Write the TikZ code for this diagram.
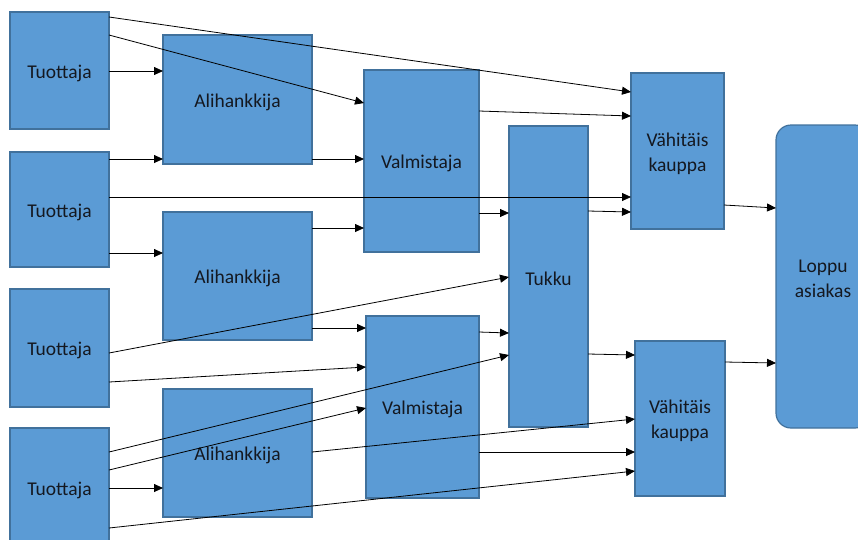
\documentclass[tikz,border=0pt]{standalone}
\usepackage{fontspec}
\setmainfont{Carlito}
\usetikzlibrary{arrows.meta}
\definecolor{boxfill}{HTML}{5B9BD5}
\definecolor{boxline}{HTML}{41719C}
\definecolor{ink}{HTML}{141820}
\tikzset{
  box/.style={draw=boxline, fill=boxfill, line width=1.2pt, inner sep=0pt,
    outer sep=0pt},
  lbl/.style={inner sep=0pt, align=center, text=ink,
    font=\fontsize{19.5}{25}\selectfont},
  arr/.style={draw=black, line width=0.8pt, -{Triangle[length=9pt,width=8pt]}},
}
% \placebox[extra]{name}{x1}{y1}{x2}{y2}{text}: box given by its corners
\newcommand\placebox[7][]{%
  \node[box,#1,minimum width={(#5-#3)*1pt},minimum height={(#6-#4)*1pt}]
    (#2) at ({(#3+#5)/2},{(#4+#6)/2}) {};
  \node[lbl] (#2-text) at ([yshift=-2.5pt]#2.center) {#7};}
\begin{document}
\begin{tikzpicture}[x=1pt,y=-1pt]
\useasboundingbox (0,0) rectangle (858,539);
% producers
\placebox{t1}{10}{12}{109}{129}{Tuottaja}
\placebox{t2}{10}{152}{109}{267}{Tuottaja}
\placebox{t3}{10}{289}{109}{407}{Tuottaja}
\placebox{t4}{10}{428}{109}{548}{Tuottaja}
% subcontractors
\placebox{a1}{163}{35}{312}{164}{Alihankkija}
\placebox{a2}{163}{212}{312}{340}{Alihankkija}
\placebox{a3}{163}{389}{312}{517}{Alihankkija}
% manufacturers
\placebox{m1}{364}{70}{479}{252}{Valmistaja}
\placebox{m2}{366}{316}{479}{498}{Valmistaja}
% wholesale
\placebox{w}{509}{126}{588}{427}{Tukku}
% retail
\placebox{r1}{631}{73}{724}{229}{Vähitäis\\kauppa}
\placebox{r2}{635}{341}{725}{496}{Vähitäis\\kauppa}
% end customer
\placebox[rounded corners=15pt]{c}{776}{125}{870}{428}{Loppu\\asiakas}

% flows
\draw[arr] (t1.east |- 0,17)  -- (r1.west |- 0,92);
\draw[arr] (t1.east |- 0,35)  -- (m1.west |- 0,103);
\draw[arr] (t1.east |- 0,71)  -- (a1.west |- 0,71);
\draw[arr] (t2.east |- 0,159) -- (a1.west |- 0,159);
\draw[arr] (a1.east |- 0,159) -- (m1.west |- 0,159);
\draw[arr] (t2.east |- 0,197) -- (r1.west |- 0,197);
\draw[arr] (m1.east |- 0,111) -- (r1.west |- 0,116);
\draw[arr] (m1.east |- 0,213) -- (w.west |- 0,213);
\draw[arr] (w.east |- 0,211)  -- (r1.west |- 0,212);
\draw[arr] (a2.east |- 0,228) -- (m1.west |- 0,228);
\draw[arr] (t2.east |- 0,253) -- (a2.west |- 0,253);
\draw[arr] (t3.east |- 0,353) -- (w.west |- 0,277);
\draw[arr] (a2.east |- 0,328) -- (m2.west |- 0,328);
\draw[arr] (t3.east |- 0,382) -- (m2.west |- 0,367);
\draw[arr] (m2.east |- 0,332) -- (w.west |- 0,333);
\draw[arr] (t4.east |- 0,452) -- (w.west |- 0,355);
\draw[arr] (t4.east |- 0,470) -- (m2.west |- 0,408);
\draw[arr] (t4.east |- 0,488) -- (a3.west |- 0,488);
\draw[arr] (a3.east |- 0,452) -- (r2.west |- 0,419);
\draw[arr] (m2.east |- 0,452) -- (r2.west |- 0,452);
\draw[arr] (t4.east |- 0,528) -- (r2.west |- 0,471);
\draw[arr] (w.east |- 0,354)  -- (r2.west |- 0,355);
\draw[arr] (r1.east |- 0,205) -- (c.west |- 0,208);
\draw[arr] (r2.east |- 0,362) -- (c.west |- 0,363);
\end{tikzpicture}
\end{document}
